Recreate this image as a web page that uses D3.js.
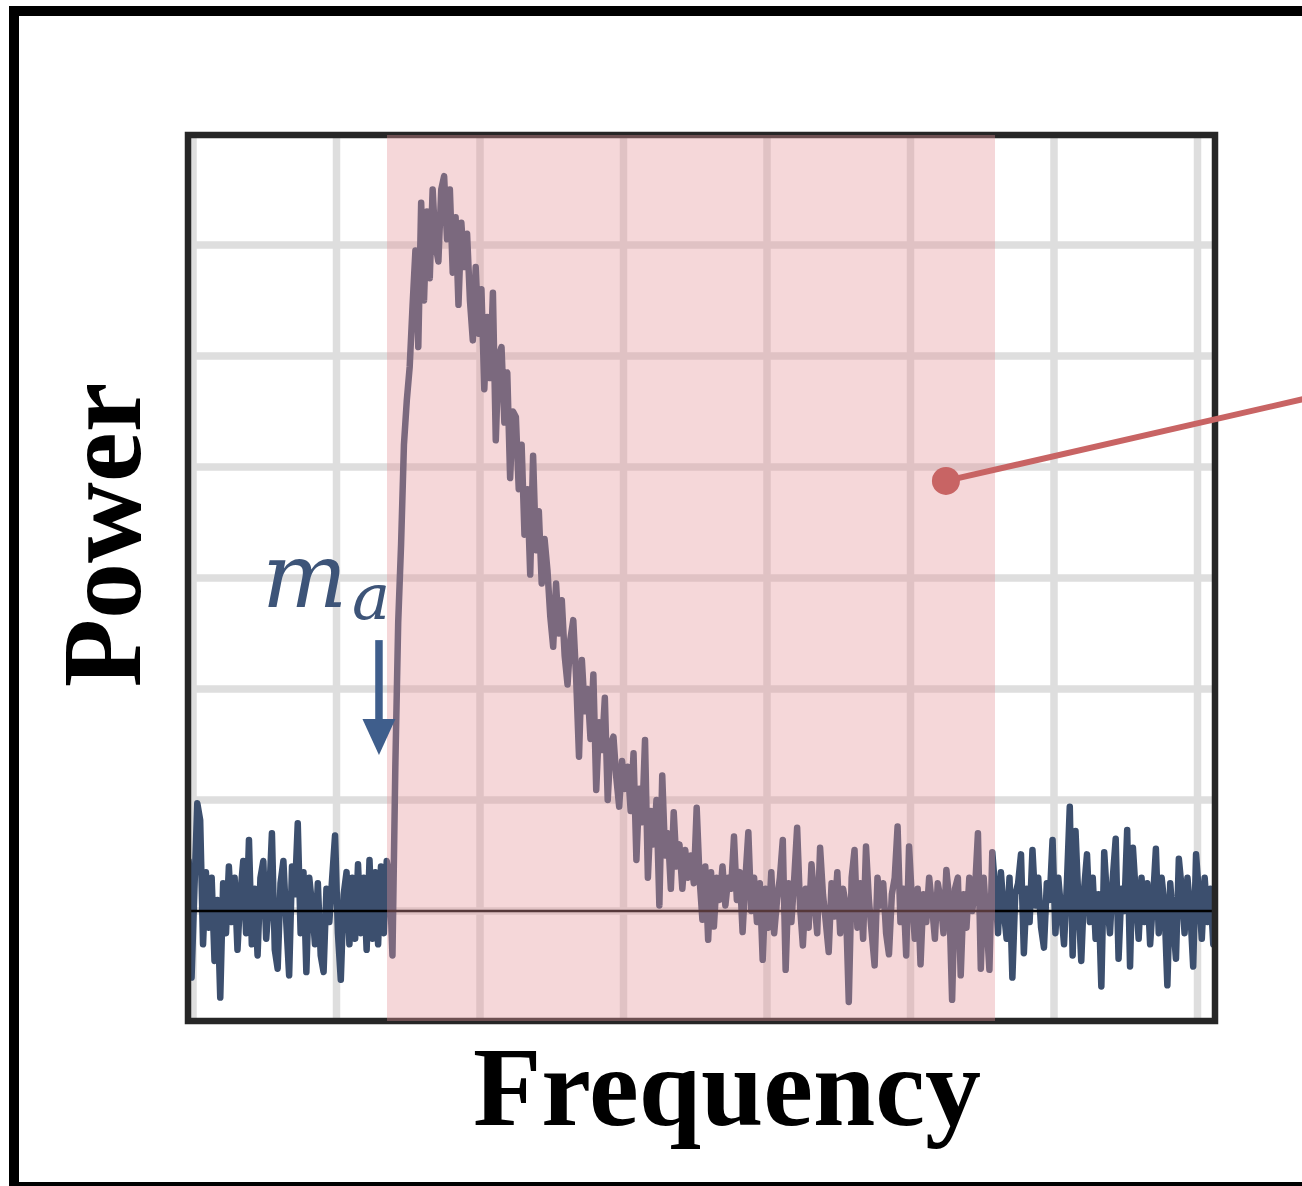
<!DOCTYPE html>
<html>
<head>
<meta charset="utf-8">
<script src="https://cdn.jsdelivr.net/npm/d3@7"></script>
<style>
    html, body { margin: 0; padding: 0; background: #fff; }
    #chart { width: 1302px; height: 1186px; }
    .grid line { stroke: #dedede; stroke-width: 7.5; }
    .axis-label { font-family: "Liberation Serif", "DejaVu Serif", serif; font-weight: bold; fill: #000; }
    .mass-label { font-family: "DejaVu Serif", "Liberation Serif", serif; font-style: italic; fill: #3d5478; }
</style>
</head>
<body>
<div id="chart"></div>
<script>
// spectrum samples, frequency runs from freqStart in steps of freqStep
const freqStart = -0.03;
const freqStep = 0.02;

const noiseLow = [
    0.45, -0.6, 0.2, 0.97, 0.82, -0.3, 0.35, -0.15, 0.3, -0.45,
    0.1, -0.78, 0.25, -0.2, 0.4, -0.1, 0.3, -0.35, 0.15, 0.45,
    -0.2, 0.64, -0.3, 0.2, -0.4, 0.3, 0.45, -0.25, 0.1, 0.7,
    -0.35, -0.52, 0.25, 0.45, -0.1, -0.58, 0.4, 0.15, 0.79, -0.2,
    0.35, -0.55, 0.3, 0.05, -0.3, 0.25, -0.4, -0.55, 0.2, -0.1,
    0.3, 0.68, -0.2, -0.62, 0.15, 0.35, -0.3, 0.3, -0.25, 0.42,
    -0.2, 0.3, -0.35, 0.46, -0.25, 0.35, -0.3, 0.4, -0.2, 0.45,
    0.3
];

const axionSignal = [
    -0.4, 1.3, 2.6, 3.3, 4.2, 4.6, 4.9, 5.45, 5.95, 5.08,
    6.38, 5.5, 6.3, 5.7, 6.5, 6.0, 5.85, 6.5, 6.62, 6.05,
    6.5, 5.75, 6.25, 5.46, 6.2, 5.8, 6.1, 5.5, 5.14, 5.8,
    5.2, 5.6, 4.7, 5.35, 4.8, 5.57, 4.24, 5.0, 5.08, 4.4,
    4.85, 3.9, 4.5, 4.45, 3.8, 4.2, 3.39, 3.8, 3.03, 4.1,
    3.25, 3.6, 2.95, 3.35, 3.07, 2.65, 2.38, 2.95, 2.5, 2.8,
    2.3, 2.04, 2.45, 2.62, 2.1, 1.39, 2.26, 1.8, 2.0, 1.55,
    2.13, 1.09, 1.7, 1.45, 1.92, 1.0, 1.5, 1.57, 1.2, 0.94,
    1.35, 1.1, 1.3, 0.9, 1.42, 0.46, 1.1, 0.8, 1.54, 0.3,
    0.9, 0.6, 1.0, 0.05, 1.22, 0.5, 0.7, 0.2, 0.89, 0.4,
    0.6, 0.2, 0.55, 0.3, 0.5, 0.25, 0.93, 0.3, -0.08, 0.4,
    -0.26, 0.35, -0.14, 0.3, 0.1, 0.4, 0.05, 0.3, 0.2, 0.67,
    0.1, 0.35, -0.19, 0.3, 0.71, 0.0, 0.3, -0.1, 0.25, -0.44
];

const noiseHigh = [
    0.2, -0.15, 0.35, -0.2, 0.1, 0.3, 0.64, -0.53, 0.25, -0.1,
    0.3, 0.75, 0.05, -0.31, 0.2, -0.15, 0.42, 0.1, -0.2, 0.57,
    0.15, -0.1, -0.37, 0.25, -0.05, 0.35, -0.2, 0.2, 0.05, -0.82,
    0.3, 0.55, -0.15, 0.25, -0.25, 0.58, 0.1, -0.2, -0.49, 0.3,
    0.05, 0.25, -0.2, -0.39, 0.15, 0.3, 0.76, -0.1, 0.2, -0.4,
    0.58, 0.1, -0.25, 0.2, -0.48, 0.15, -0.1, 0.3, 0.05, -0.25,
    0.25, 0.1, -0.2, 0.37, 0.1, -0.8, 0.2, 0.3, -0.58, 0.15,
    -0.15, 0.3, 0.0, 0.2, 0.7, -0.52, 0.3, -0.1, -0.53, 0.53,
    0.2, -0.2, 0.35, 0.0, -0.25, 0.3, -0.6, 0.15, 0.25, 0.51,
    -0.38, 0.2, -0.1, 0.55, 0.05, 0.3, -0.15, -0.33, 0.25, 0.1,
    0.64, -0.2, 0.3, 0.0, -0.3, 0.25, 0.94, -0.4, 0.72, 0.1,
    -0.45, 0.2, 0.51, -0.1, 0.3, -0.25, 0.15, -0.68, 0.53, 0.1,
    -0.2, 0.3, 0.65, -0.43, 0.2, 0.0, 0.73, -0.5, 0.57, 0.15,
    -0.25, 0.3, -0.1, 0.25, -0.3, 0.1, 0.56, -0.2, 0.3, 0.05,
    -0.67, 0.25, -0.1, -0.43, 0.47, 0.2, -0.2, 0.3, 0.0, -0.5,
    0.51, 0.15, -0.25, 0.3, -0.1, 0.2, -0.3, 0.45
];

const gridX = [0, 1, 2, 3, 4, 5, 6, 7];
const gridY = [0, 1, 2, 3, 4, 5, 6, 7];
const searchBand = [1.352, 5.589];
const massArrow = { freq: 1.296, from: 2.44, to: 1.405 };
const calloutDot = [5.247, 3.874];
const calloutEnd = [8.41, 4.81];

const power = [...noiseLow, ...axionSignal, ...noiseHigh];
const spectrum = power.map((p, i) => ({ f: freqStart + i * freqStep, p: p }));

const W = 1302, H = 1186;
const plot = { left: 188, right: 1215, top: 135, bottom: 1021 };

const svg = d3.select("#chart").append("svg")
    .attr("width", W)
    .attr("height", H)
    .attr("viewBox", `0 0 ${W} ${H}`);

const x = d3.scaleLinear().domain([-0.0348, 7.122]).range([plot.left, plot.right]);
const y = d3.scaleLinear().domain([-0.991, 6.99]).range([plot.bottom, plot.top]);

// outer panel frame, cut off on the right
svg.append("rect")
    .attr("x", 14).attr("y", 11)
    .attr("width", W + 40).attr("height", 1176)
    .attr("fill", "none").attr("stroke", "#000").attr("stroke-width", 10);

svg.append("defs").append("clipPath").attr("id", "plot-clip")
    .append("rect")
    .attr("x", plot.left).attr("y", plot.top)
    .attr("width", plot.right - plot.left).attr("height", plot.bottom - plot.top);

const grid = svg.append("g").attr("class", "grid").attr("clip-path", "url(#plot-clip)");
grid.selectAll(".gx").data(gridX).enter().append("line")
    .attr("x1", d => x(d)).attr("x2", d => x(d))
    .attr("y1", plot.top).attr("y2", plot.bottom);
grid.selectAll(".gy").data(gridY).enter().append("line")
    .attr("y1", d => y(d)).attr("y2", d => y(d))
    .attr("x1", plot.left).attr("x2", plot.right);

const line = d3.line().x(d => x(d.f)).y(d => y(d.p));

svg.append("path")
    .datum(spectrum)
    .attr("clip-path", "url(#plot-clip)")
    .attr("d", line)
    .attr("fill", "none")
    .attr("stroke", "#3c4f6e")
    .attr("stroke-width", 6.5)
    .attr("stroke-linejoin", "round")
    .attr("stroke-linecap", "round");

svg.append("line")
    .attr("x1", plot.left).attr("x2", plot.right)
    .attr("y1", y(0)).attr("y2", y(0))
    .attr("stroke", "#000").attr("stroke-width", 2.6);

svg.append("rect")
    .attr("x", plot.left).attr("y", plot.top)
    .attr("width", plot.right - plot.left).attr("height", plot.bottom - plot.top)
    .attr("fill", "none").attr("stroke", "#262626").attr("stroke-width", 6.5);

svg.append("rect")
    .attr("x", x(searchBand[0])).attr("y", plot.top)
    .attr("width", x(searchBand[1]) - x(searchBand[0]))
    .attr("height", plot.bottom - plot.top)
    .attr("fill", "rgb(228,149,154)").attr("fill-opacity", 0.376);

// callout to the next panel
svg.append("line")
    .attr("x1", x(calloutDot[0])).attr("y1", y(calloutDot[1]))
    .attr("x2", x(calloutEnd[0])).attr("y2", y(calloutEnd[1]))
    .attr("stroke", "#c86464").attr("stroke-width", 6);
svg.append("circle")
    .attr("cx", x(calloutDot[0])).attr("cy", y(calloutDot[1]))
    .attr("r", 14).attr("fill", "#c86464");

// m_a marker
const ax = x(massArrow.freq), ay0 = y(massArrow.from), ay1 = y(massArrow.to);
svg.append("line")
    .attr("x1", ax).attr("x2", ax)
    .attr("y1", ay0).attr("y2", ay1 - 30)
    .attr("stroke", "#3f5e8c").attr("stroke-width", 7.5);
svg.append("path")
    .attr("d", `M${ax - 16.5},${ay1 - 36} L${ax + 16.5},${ay1 - 36} L${ax},${ay1} Z`)
    .attr("fill", "#3f5e8c");

svg.append("text").attr("class", "mass-label")
    .attr("x", 262).attr("y", 607)
    .attr("font-size", 90)
    .text("m");
svg.append("text").attr("class", "mass-label")
    .attr("x", 352).attr("y", 619)
    .attr("font-size", 64)
    .text("a");

svg.append("text").attr("class", "axis-label")
    .attr("transform", "translate(140, 535) rotate(-90)")
    .attr("text-anchor", "middle")
    .attr("font-size", 112)
    .text("Power");

svg.append("text").attr("class", "axis-label")
    .attr("x", 727).attr("y", 1125)
    .attr("text-anchor", "middle")
    .attr("font-size", 112)
    .text("Frequency");
</script>
</body>
</html>
